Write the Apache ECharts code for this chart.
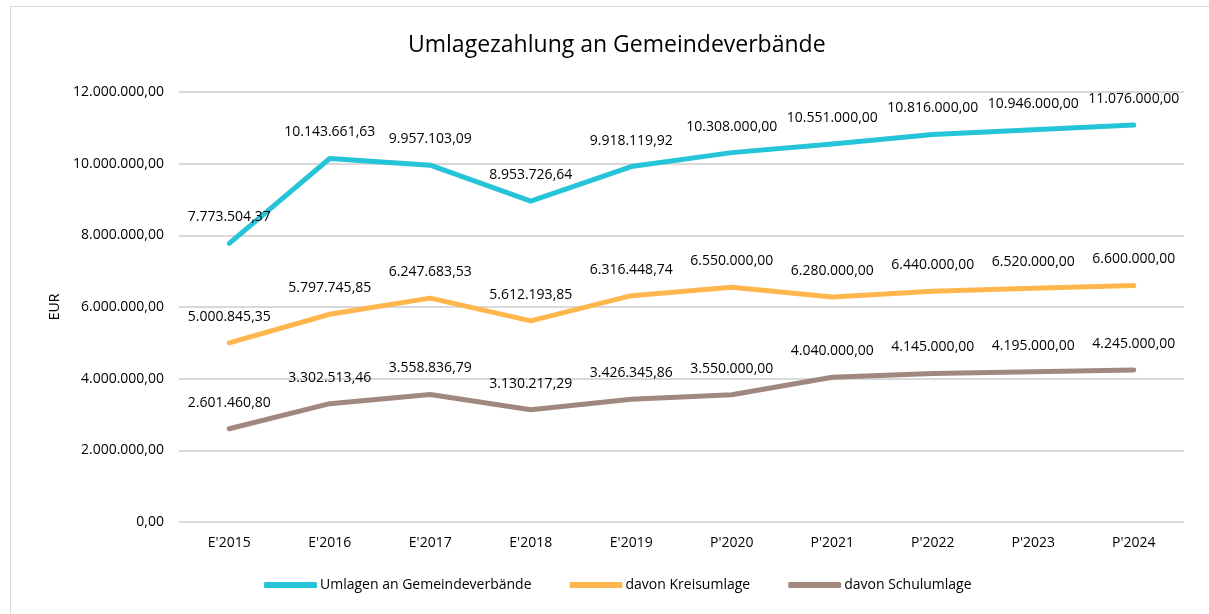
<!DOCTYPE html>
<html>
<head>
<meta charset="utf-8">
<script src="https://cdn.jsdelivr.net/npm/echarts@6/dist/echarts.min.js"></script>
<style>
  html, body { margin: 0; padding: 0; background: #fff; }
  #frame { position: absolute; left: 10px; top: 6px; width: 1260px; height: 700px; border: 1.5px solid #d9d9d9; box-sizing: border-box; }
  #chart { position: absolute; left: 0; top: 0; width: 1209px; height: 614px; }
</style>
</head>
<body>
<div id="frame"></div>
<div id="chart"></div>
<script>
const categories = ["E'2015", "E'2016", "E'2017", "E'2018", "E'2019", "P'2020", "P'2021", "P'2022", "P'2023", "P'2024"];
const umlagen = [7773504.37, 10143661.63, 9957103.09, 8953726.64, 9918119.92, 10308000, 10551000, 10816000, 10946000, 11076000];
const kreisumlage = [5000845.35, 5797745.85, 6247683.53, 5612193.85, 6316448.74, 6550000, 6280000, 6440000, 6520000, 6600000];
const schulumlage = [2601460.80, 3302513.46, 3558836.79, 3130217.29, 3426345.86, 3550000, 4040000, 4145000, 4195000, 4245000];
const seriesNames = ["Umlagen an Gemeindeverbände", "davon Kreisumlage", "davon Schulumlage"];
const colors = ["#26C4D8", "#FFB74D", "#A1887F"];

const font = "'Open Sans', sans-serif";

// deutsches Zahlenformat 1.234.567,89
function fmt(v) {
  const parts = v.toFixed(2).split(".");
  return parts[0].replace(/\B(?=(\d{3})+(?!\d))/g, ".") + "," + parts[1];
}

function makeSeries(name, data, color) {
  return {
    name: name,
    type: "line",
    data: data,
    symbol: "circle",
    symbolSize: 0.1,
    showSymbol: true,
    lineStyle: { width: 5, color: color, cap: "round", join: "round" },
    itemStyle: { color: color },
    label: {
      show: true,
      position: "top",
      distance: 19,
      color: "#000",
      fontFamily: font,
      fontSize: 14,
      formatter: p => fmt(p.value)
    },
    labelLayout: { hideOverlap: false },
    animation: false
  };
}

const myChart = echarts.init(document.getElementById("chart"), null, { renderer: "canvas" });
const option = {
  animation: false,
  title: {
    text: "Umlagezahlung an Gemeindeverbände",
    left: 403,
    top: 29,
    textStyle: { fontFamily: font, fontSize: 23, fontWeight: "normal", color: "#000" }
  },
  legend: {
    bottom: 17,
    left: 259,
    itemWidth: 53,
    itemHeight: 6,
    itemGap: 38,
    icon: "roundRect",
    data: seriesNames,
    textStyle: { fontFamily: font, fontSize: 14, color: "#000", padding: [0, 0, 0, -2] }
  },
  grid: { left: 179, right: 25, top: 92, bottom: 92 },
  xAxis: {
    type: "category",
    data: categories,
    boundaryGap: true,
    axisLine: { show: false },
    axisTick: { show: false },
    axisLabel: { fontFamily: font, fontSize: 14, color: "#000", margin: 14 }
  },
  yAxis: {
    type: "value",
    min: 0,
    max: 12000000,
    interval: 2000000,
    name: "EUR",
    nameLocation: "middle",
    nameGap: 116,
    nameTextStyle: { fontFamily: font, fontSize: 14, color: "#000" },
    axisLabel: { fontFamily: font, fontSize: 14, color: "#000", margin: 15, formatter: v => fmt(v) },
    splitLine: { lineStyle: { color: "#d9d9d9", width: 2 } }
  },
  series: [
    makeSeries(seriesNames[0], umlagen, colors[0]),
    makeSeries(seriesNames[1], kreisumlage, colors[1]),
    makeSeries(seriesNames[2], schulumlage, colors[2])
  ]
};
myChart.setOption(option);
window.addEventListener("resize", () => { myChart.resize(); });
</script>
</body>
</html>
